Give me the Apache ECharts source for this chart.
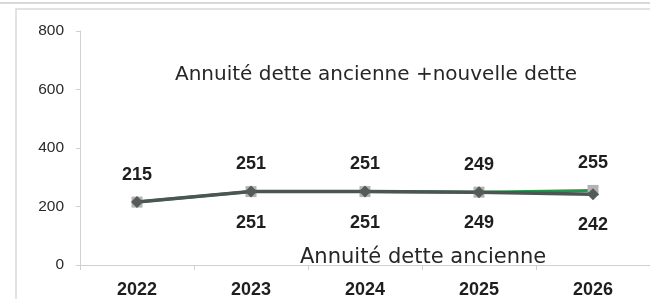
<!DOCTYPE html>
<html>
<head>
<meta charset="utf-8">
<script src="https://cdn.jsdelivr.net/npm/echarts@6/dist/echarts.min.js"></script>
<style>
  html, body { margin: 0; padding: 0; background: #fff; }
  #chart { width: 650px; height: 299px; }
</style>
</head>
<body>
<div id="chart"></div>
<script>
const years = ["2022", "2023", "2024", "2025", "2026"];
const totalDette = [215, 251, 251, 249, 255];   // ancienne + nouvelle dette
const ancienneDette = [215, 251, 251, 249, 242];
const yTicks = [0, 200, 400, 600, 800];
const titleTotal = "Annuité dette ancienne +nouvelle dette";
const titleAncienne = "Annuité dette ancienne";

const chart = echarts.init(document.getElementById('chart'));

const labelFont = {
    fontFamily: "'Liberation Sans', Arial, sans-serif",
    fontWeight: 'bold',
    fontSize: 18,
    color: '#1e1e1e'
};

chart.setOption({
    animation: false,
    graphic: [
        { type: 'line', shape: {x1: 0, y1: 3, x2: 650, y2: 3}, style: {stroke: '#d9d9d9', lineWidth: 2} },
        { type: 'rect', shape: {x: 16, y: 9, width: 660, height: 320}, style: {fill: 'none', stroke: '#d9d9d9', lineWidth: 1.5} }
    ],
    title: [
        {
            text: titleTotal, left: 170, top: 60,
            textStyle: {fontFamily: 'DejaVu Sans', fontWeight: 'normal', fontSize: 20, color: '#262626'}
        },
        {
            text: titleAncienne, left: 295, top: 242,
            textStyle: {fontFamily: 'DejaVu Sans', fontWeight: 'normal', fontSize: 21, color: '#262626'}
        }
    ],
    grid: {left: 80, right: -10, top: 31, bottom: 34},
    xAxis: {
        type: 'category',
        data: years,
        axisLine: {lineStyle: {color: '#d0d0d0', width: 1}},
        axisTick: {show: true, length: 5, lineStyle: {color: '#d0d0d0'}},
        axisLabel: Object.assign({margin: 16}, labelFont)
    },
    yAxis: {
        type: 'value',
        min: yTicks[0],
        max: yTicks[yTicks.length - 1],
        interval: 200,
        splitLine: {show: false},
        axisLine: {show: true, lineStyle: {color: '#d0d0d0', width: 1}},
        axisTick: {show: true, length: 4, lineStyle: {color: '#d0d0d0'}},
        axisLabel: {margin: 16, fontFamily: 'Liberation Sans', fontSize: 15.5, color: '#2a2a2a'}
    },
    series: [
        {
            name: titleTotal,
            type: 'line',
            data: totalDette,
            symbol: 'rect',
            symbolSize: 11,
            itemStyle: {color: '#b3b3b3'},
            lineStyle: {color: '#1f9a4c', width: 3},
            label: Object.assign({show: true, position: 'top', distance: 13}, labelFont),
            z: 2
        },
        {
            name: titleAncienne,
            type: 'line',
            data: ancienneDette.map((v, i) => i === 0 ? {value: v, label: {show: false}} : v),
            symbol: 'diamond',
            symbolSize: 12,
            itemStyle: {color: '#555b59'},
            lineStyle: {color: '#4b5552', width: 3.5},
            label: Object.assign({show: true, position: 'bottom', distance: 16}, labelFont),
            z: 3
        }
    ]
});
</script>
</body>
</html>
